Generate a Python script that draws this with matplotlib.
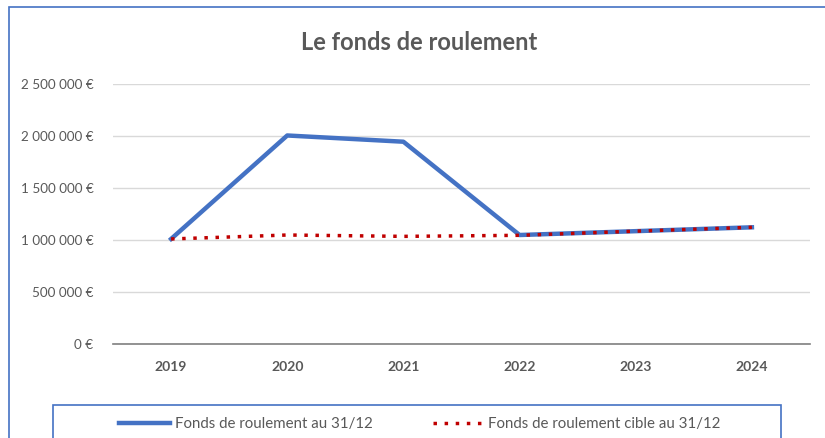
import matplotlib.pyplot as plt
from matplotlib.ticker import FuncFormatter
from matplotlib.patches import Rectangle

# données
annees = ['2019', '2020', '2021', '2022', '2023', '2024']
fonds_roulement = [1010000, 2005000, 1945000, 1048000, 1085000, 1122000]
fonds_cible = [1010000, 1048000, 1035000, 1045000, 1085000, 1122000]

plt.rcParams['font.family'] = ['Lato', 'DejaVu Sans']
gris = '#595959'

fig = plt.figure(figsize=(8.25, 4.38), dpi=100)
ax = fig.add_axes([113 / 825, 94 / 438, 697 / 825, 260 / 438])

x = range(len(annees))
ax.plot(x, fonds_roulement, color='#4472C4', linewidth=3.2,
        solid_joinstyle='round', label='Fonds de roulement au 31/12', zorder=3)
ax.plot(x, fonds_cible, color='#C00000', linewidth=2.5, linestyle=(0, (1, 2.2)),
        label='Fonds de roulement cible au 31/12', zorder=4)

ax.set_xlim(-0.5, len(annees) - 0.5)
ax.set_ylim(0, 2500000)
ax.set_yticks([0, 500000, 1000000, 1500000, 2000000, 2500000])
ax.yaxis.set_major_formatter(FuncFormatter(
    lambda v, p: '{:,.0f} €'.format(v).replace(',', ' ')))
ax.set_xticks(list(x))
ax.set_xticklabels(annees, fontweight='bold')

ax.grid(axis='y', color='#D9D9D9', linewidth=1)
ax.set_axisbelow(True)
for s in ['top', 'right', 'left']:
    ax.spines[s].set_visible(False)
ax.spines['bottom'].set_color('#7F7F7F')
ax.spines['bottom'].set_linewidth(1.2)
ax.tick_params(axis='both', length=0, colors=gris)
ax.tick_params(axis='x', pad=12, labelsize=10)
ax.tick_params(axis='y', pad=14, labelsize=9.7)

fig.text(419 / 825, 1 - 42 / 438, 'Le fonds de roulement', ha='center', va='center',
         fontsize=17, color=gris, fontweight='bold')

# cadre extérieur et cadre de la légende
fig.patches.append(Rectangle((9 / 825, -0.1), 1.0, 1 - 7 / 438 + 0.1,
                             transform=fig.transFigure, fill=False,
                             edgecolor='#4472C4', linewidth=1.2))
fig.patches.append(Rectangle((53 / 825, -0.1), 728 / 825, (438 - 405) / 438 + 0.1,
                             transform=fig.transFigure, fill=False,
                             edgecolor='#4472C4', linewidth=1.2))

leg = fig.legend(loc='center', bbox_to_anchor=(420 / 825, 1 - 424 / 438), ncol=2,
                 frameon=False, fontsize=10.8, handlelength=3.4, handletextpad=0.3,
                 columnspacing=4.0)
for t in leg.get_texts():
    t.set_color(gris)

fig.savefig('out.png', dpi=100)
